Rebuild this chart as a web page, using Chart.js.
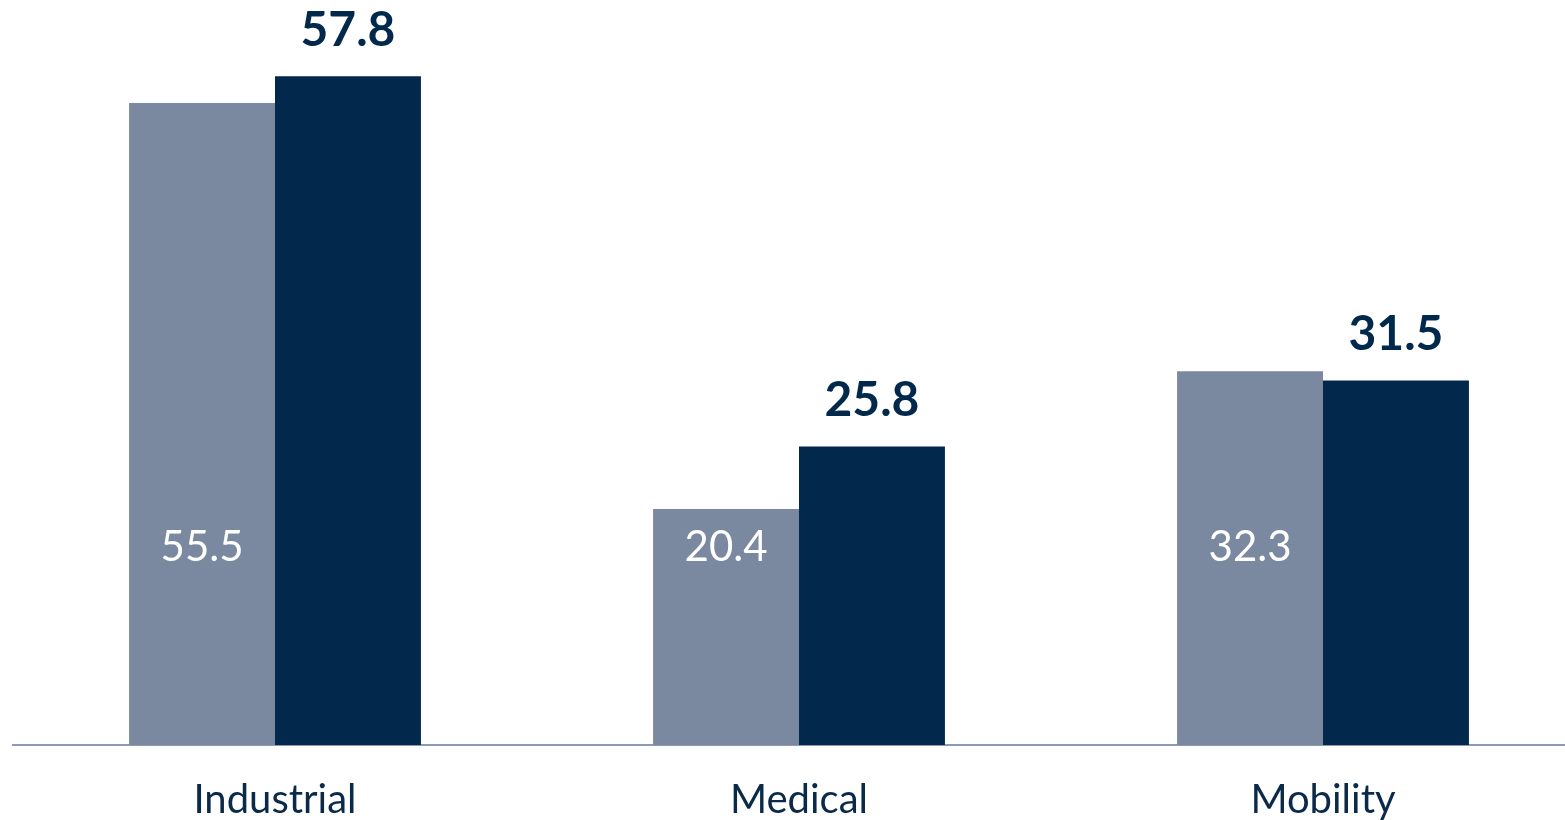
<!DOCTYPE html>
<html>
<head>
<meta charset="utf-8">
<script src="https://cdn.jsdelivr.net/npm/chart.js@4"></script>
<style>
  html, body { margin: 0; padding: 0; background: #ffffff; overflow: hidden; }
  #wrap { position: relative; width: 1600px; height: 857px; }
</style>
</head>
<body>
<div id="wrap"><canvas id="c"></canvas></div>
<script>
const categories = ["Industrial", "Medical", "Mobility"];
const prevValues = [55.5, 20.4, 32.3];
const currValues = [57.8, 25.8, 31.5];

const GRAY = "#7b89a0";
const NAVY = "#02284b";
const FONT = "Lato, 'Open Sans', sans-serif";

const labelPlugin = {
  id: "valueLabels",
  afterDatasetsDraw(chart) {
    const ctx = chart.ctx;
    const yScale = chart.scales.y;
    ctx.save();
    ctx.textAlign = "center";
    // previous-period labels: white, inside the bars at a fixed height
    const m0 = chart.getDatasetMeta(0);
    ctx.fillStyle = "#ffffff";
    ctx.font = "42px " + FONT;
    ctx.textBaseline = "middle";
    m0.data.forEach((bar, i) => {
      ctx.fillText(prevValues[i].toFixed(1), bar.x, yScale.getPixelForValue(17.1));
    });
    // current-period labels: bold navy, above the bars
    const m1 = chart.getDatasetMeta(1);
    ctx.fillStyle = NAVY;
    ctx.font = "bold 48px " + FONT;
    ctx.textBaseline = "bottom";
    m1.data.forEach((bar, i) => {
      ctx.fillText(currValues[i].toFixed(1), bar.x, bar.y - 22);
    });
    ctx.restore();
  }
};

new Chart(document.getElementById("c"), {
  type: "bar",
  data: {
    labels: categories,
    datasets: [
      { data: prevValues, backgroundColor: GRAY, borderWidth: 0 },
      { data: currValues, backgroundColor: NAVY, borderWidth: 0 }
    ]
  },
  options: {
    responsive: true,
    maintainAspectRatio: false,
    animation: false,
    events: [],
    layout: { padding: { left: 13, right: 15, top: 0, bottom: 2 } },
    datasets: { bar: { categoryPercentage: 0.557, barPercentage: 1.0 } },
    plugins: { legend: { display: false }, tooltip: { enabled: false } },
    scales: {
      x: {
        grid: { display: false, drawTicks: false },
        border: { display: true, color: "#8b9bb3", width: 2 },
        ticks: { color: "#0b2a4a", font: { family: FONT, size: 40 }, padding: 31 }
      },
      y: {
        display: false,
        min: 0,
        max: 64.4
      }
    }
  },
  plugins: [labelPlugin]
});
</script>
</body>
</html>
